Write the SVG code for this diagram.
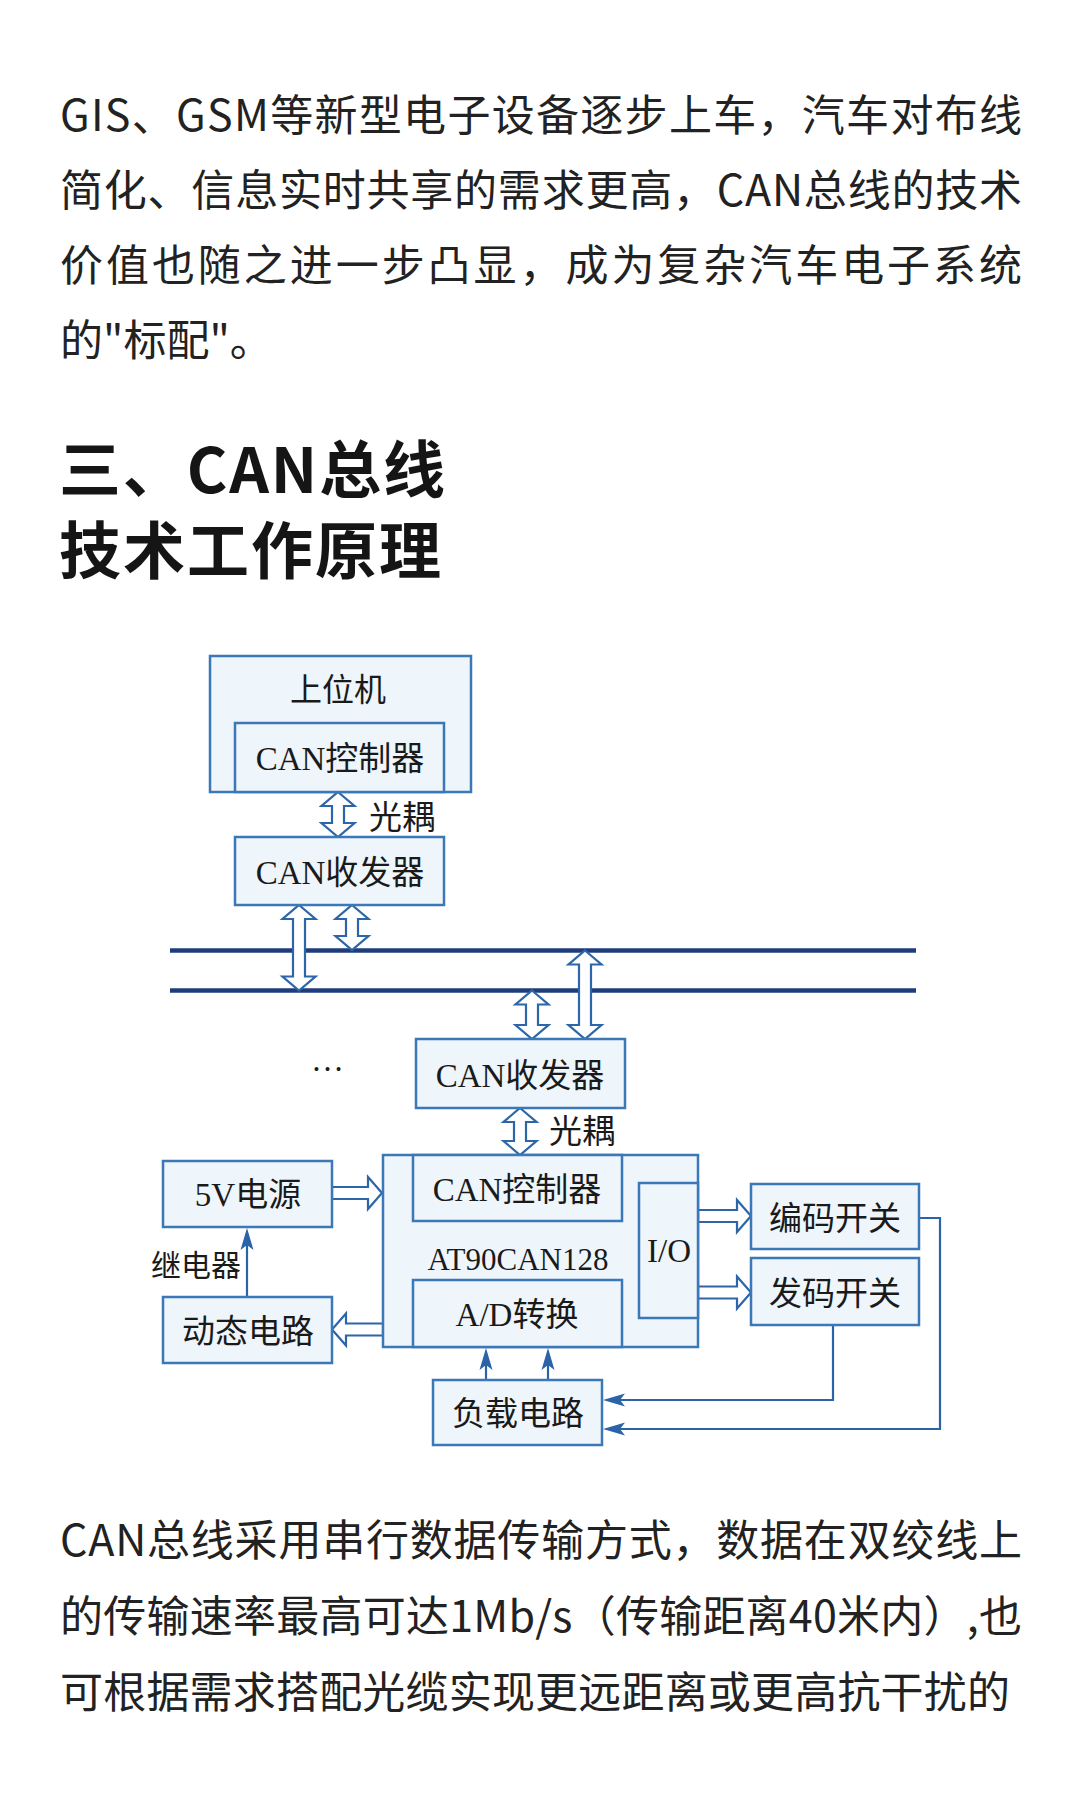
<svg xmlns="http://www.w3.org/2000/svg" width="1080" height="1800" viewBox="0 0 1080 1800">
<style>
.para{font-family:"Noto Sans CJK SC","Noto Sans",sans-serif;font-size:43px;fill:#222222}
.head{font-family:"Noto Sans CJK SC","Noto Sans",sans-serif;font-size:62px;font-weight:bold;fill:#151515}
.box{fill:#eef5fb;stroke:#3a78b8;stroke-width:2.5}
.lbl{font-family:"Liberation Serif","Noto Sans CJK SC",serif;font-size:33px;fill:#1a1a1a;text-anchor:middle}
.lbls{font-family:"Liberation Serif","Noto Sans CJK SC",serif;font-size:33px;fill:#1a1a1a}
.hol{fill:#ffffff;stroke:#2d66a8;stroke-width:2.2;stroke-linejoin:miter}
.bus{stroke:#1f3d7a;stroke-width:4.5;fill:none}
.wire{fill:none;stroke:#2a63a8;stroke-width:2.2}
</style>
<defs>
<marker id="ah" markerUnits="userSpaceOnUse" markerWidth="24" markerHeight="14" refX="16" refY="7" orient="auto" viewBox="0 0 22 14">
<path d="M0,0.5 L22,7 L0,13.5 L5,7 Z" fill="#2a63a8"/>
</marker>
</defs>
<rect x="0" y="0" width="1080" height="1800" fill="#ffffff"/>

<g id="intro-text">
<text class="para" x="60" y="131" textLength="962">GIS、GSM等新型电子设备逐步上车，汽车对布线</text>
<text class="para" x="60" y="206" textLength="962">简化、信息实时共享的需求更高，CAN总线的技术</text>
<text class="para" x="60" y="281" textLength="962">价值也随之进一步凸显，成为复杂汽车电子系统</text>
<text class="para" x="60" y="356">的"标配"。</text>
</g>

<g id="heading">
<text class="head" x="59" y="493" textLength="386">三、CAN总线</text>
<text class="head" x="59" y="574" textLength="382">技术工作原理</text>
</g>

<g id="connectors">
<line class="bus" x1="170" y1="950.5" x2="916" y2="950.5"/>
<line class="bus" x1="170" y1="990.5" x2="916" y2="990.5"/>
<path class="hol" d="M338,792 L354.5,806 L344,806 L344,823 L354.5,823 L338,837 L321.5,823 L332,823 L332,806 L321.5,806 Z"/>
<path class="hol" d="M299,905 L315.5,919 L305,919 L305,976.5 L315.5,976.5 L299,990.5 L282.5,976.5 L293,976.5 L293,919 L282.5,919 Z"/>
<path class="hol" d="M352,905 L368.5,919 L358,919 L358,936 L368.5,936 L352,950 L335.5,936 L346,936 L346,919 L335.5,919 Z"/>
<path class="hol" d="M532,990.5 L548.5,1004.5 L538,1004.5 L538,1025 L548.5,1025 L532,1039 L515.5,1025 L526,1025 L526,1004.5 L515.5,1004.5 Z"/>
<path class="hol" d="M585,950.5 L601.5,964.5 L591,964.5 L591,1025 L601.5,1025 L585,1039 L568.5,1025 L579,1025 L579,964.5 L568.5,964.5 Z"/>
<path class="hol" d="M520,1108 L536.5,1122 L526,1122 L526,1141 L536.5,1141 L520,1155 L503.5,1141 L514,1141 L514,1122 L503.5,1122 Z"/>
<path class="hol" d="M332,1187 L368,1187 L368,1177 L382,1193 L368,1209 L368,1199 L332,1199 Z"/>
<path class="hol" d="M383,1323.5 L346,1323.5 L346,1313.5 L332,1329.5 L346,1345.5 L346,1335.5 L383,1335.5 Z"/>
<path class="hol" d="M698,1210 L737,1210 L737,1200 L751,1216 L737,1232 L737,1222 L698,1222 Z"/>
<path class="hol" d="M698,1286.5 L737,1286.5 L737,1276.5 L751,1292.5 L737,1308.5 L737,1298.5 L698,1298.5 Z"/>
<path class="wire" d="M247,1297 L247,1234" marker-end="url(#ah)"/>
<path class="wire" d="M486,1380 L486,1354" marker-end="url(#ah)"/>
<path class="wire" d="M548,1380 L548,1354" marker-end="url(#ah)"/>
<path class="wire" d="M833,1325 L833,1400 L609,1400" marker-end="url(#ah)"/>
<path class="wire" d="M919,1218 L940,1218 L940,1429 L609,1429" marker-end="url(#ah)"/>
<text class="lbls" x="369" y="829">光耦</text>
<text class="lbls" x="549" y="1143">光耦</text>
<text class="lbls" x="241" y="1276" style="font-size:30px;text-anchor:end">继电器</text>
</g>

<g id="host">
<rect class="box" x="210" y="656" width="261" height="136"/>
<text class="lbl" x="338" y="701" style="font-size:32px">上位机</text>
</g>
<g id="host-can-controller">
<rect class="box" x="235" y="723" width="209" height="69"/>
<text class="lbl" x="340" y="770">CAN控制器</text>
</g>
<g id="host-can-transceiver">
<rect class="box" x="235" y="837" width="209" height="68"/>
<text class="lbl" x="340" y="884">CAN收发器</text>
</g>
<g id="ellipsis">
<text class="lbls" x="311" y="1071">…</text>
</g>
<g id="node-can-transceiver">
<rect class="box" x="416" y="1039" width="209" height="69"/>
<text class="lbl" x="520" y="1087">CAN收发器</text>
</g>
<g id="at90can128">
<rect class="box" x="383" y="1155" width="315" height="192"/>
<text class="lbl" x="518" y="1270" style="font-size:31px">AT90CAN128</text>
</g>
<g id="node-can-controller">
<rect class="box" x="413" y="1155" width="209" height="66"/>
<text class="lbl" x="517" y="1201">CAN控制器</text>
</g>
<g id="ad-convert">
<rect class="box" x="413" y="1280" width="209" height="67"/>
<text class="lbl" x="517" y="1326">A/D转换</text>
</g>
<g id="io">
<rect class="box" x="639" y="1183" width="59" height="135"/>
<text class="lbl" x="669" y="1262">I/O</text>
</g>
<g id="power-5v">
<rect class="box" x="163" y="1161" width="169" height="66"/>
<text class="lbl" x="248" y="1206">5V电源</text>
</g>
<g id="dynamic-circuit">
<rect class="box" x="163" y="1297" width="169" height="66"/>
<text class="lbl" x="248" y="1343">动态电路</text>
</g>
<g id="load-circuit">
<rect class="box" x="433" y="1380" width="169" height="65"/>
<text class="lbl" x="518" y="1425">负载电路</text>
</g>
<g id="code-switch">
<rect class="box" x="751" y="1184" width="168" height="65"/>
<text class="lbl" x="835" y="1230">编码开关</text>
</g>
<g id="send-switch">
<rect class="box" x="751" y="1258" width="168" height="67"/>
<text class="lbl" x="835" y="1305">发码开关</text>
</g>

<g id="body-text">
<text class="para" x="60" y="1556" textLength="962">CAN总线采用串行数据传输方式，数据在双绞线上</text>
<text class="para" x="60" y="1632" textLength="962">的传输速率最高可达1Mb/s（传输距离40米内）,也</text>
<text class="para" x="60" y="1708" textLength="950">可根据需求搭配光缆实现更远距离或更高抗干扰的</text>
</g>
</svg>
